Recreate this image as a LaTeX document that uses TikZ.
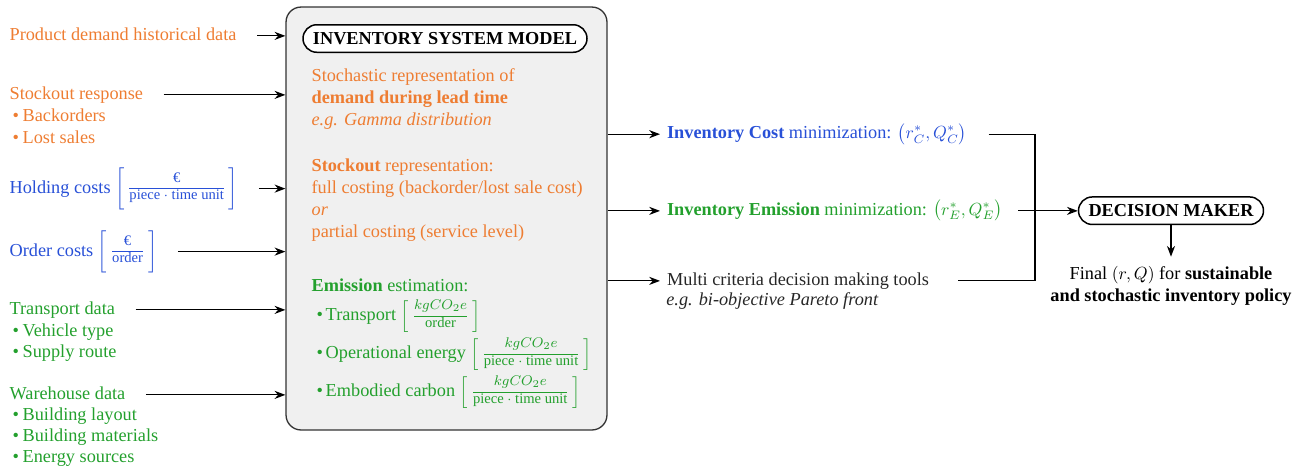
\documentclass[tikz,border=0pt]{standalone}
\usepackage{amsmath}
\usepackage{fontspec}
\setmainfont{Liberation Serif}
\usetikzlibrary{positioning,arrows.meta}

\definecolor{dorange}{RGB}{238,125,50}
\definecolor{cblue}{RGB}{40,80,215}
\definecolor{egreen}{RGB}{35,160,45}

\newcommand{\basefont}{\fontsize{10.4}{12.5}\selectfont}
\newcommand{\unitsize}{\fontsize{8.3}{9}\selectfont}
% unit in square brackets: #1 is the bracket size
\newcommand{\unitfrac}[3]{$#1[\,\frac{\text{\unitsize #2\rule[-3pt]{0pt}{1pt}}}{\text{\unitsize #3}}\,#1]$}
\newcommand{\perpiece}{piece $\cdot$ time unit}

\tikzset{lbl/.style={inner sep=0pt, anchor=base west, text height=0.69em, text depth=0.22em},
  item/.style={inner sep=0pt, anchor=base west},
  pill/.style={draw, line width=0.85pt, rounded corners=0.275cm, minimum height=0.55cm,
    inner xsep=0.2cm, fill=white, font=\basefont\bfseries},
  model/.style={draw=black!80, line width=0.75pt, fill=black!6, rounded corners=0.3cm},
  feed/.style={->, line width=0.7pt, shorten <=0.4cm}}

\begin{document}
\begin{tikzpicture}[x=0.02cm, y=-0.02cm, >=Stealth, font=\basefont, line width=0.7pt]
    \useasboundingbox (0,0) rectangle (1306,468);
    % the model in the middle
    \node [model, minimum width=6.42cm, minimum height=8.46cm] at (446.5,218.5) (model) {};
    \node [pill] at (445,38.5) (title) {INVENTORY SYSTEM MODEL};
    \foreach \t [count=\i] in {Stochastic representation of, \textbf{demand during lead time},
        \textit{e.g. Gamma distribution}}
        \node [lbl, dorange] at (311,59.7+22*\i) (stoch-\i) {\t};
    \foreach \t [count=\i] in {\textbf{Stockout} representation:, full costing (backorder/lost sale cost),
        \textit{or}, partial costing (service level)}
        \node [lbl, dorange] at (311,149.5+22*\i) (stockrep-\i) {\t};
    \node [lbl, egreen] at (311,291.7) (emis) {\textbf{Emission} estimation:};
    \foreach \t [count=\i] in {Transport \unitfrac{\Big}{$kgCO_2e$}{order},
        Operational energy \unitfrac{\Big}{$kgCO_2e$}{\perpiece},
        Embodied carbon \unitfrac{\Big}{$kgCO_2e$}{\perpiece}}
        \node [item, egreen] at (316,282.7+38*\i) (emis-\i) {\textbullet\hspace{0.15em}\t};

    % inputs on the left
    \node [lbl, dorange] at (9,40) (demand) {Product demand historical data};
    \node [lbl, dorange] at (9,99) (stockout) {Stockout response};
    \foreach \t [count=\i] in {Backorders, Lost sales}
        \node [lbl, dorange] at (12,99.5+22*\i) (stockout-\i) {\textbullet\hspace{0.2em}\t};
    \node [item, cblue] at (9,193) (holding) {Holding costs \unitfrac{\bigg}{€}{\perpiece}};
    \node [item, cblue] at (9,256) (order) {Order costs \unitfrac{\bigg}{€}{order}};
    \node [lbl, egreen] at (9,314) (transport) {Transport data};
    \foreach \t [count=\i] in {Vehicle type, Supply route}
        \node [lbl, egreen] at (12,315+21*\i) (transport-\i) {\textbullet\hspace{0.2em}\t};
    \node [lbl, egreen] at (9,399) (warehouse) {Warehouse data};
    \foreach \t [count=\i] in {Building layout, Building materials, Energy sources}
        \node [lbl, egreen] at (12,400+20.7*\i) (warehouse-\i) {\textbullet\hspace{0.2em}\t};
    \foreach \n in {demand, stockout, holding, order, transport, warehouse}
        \draw [feed] (\n.east) -- (\n.east -| model.west);

    % results on the right
    \node [lbl, cblue] at (666.5,138.3) (costmin)
        {\textbf{Inventory Cost} minimization: $\bigl(r^*_C, Q^*_C\bigr)$};
    \node [lbl, egreen] at (666.5,215) (emismin)
        {\textbf{Inventory Emission} minimization: $\bigl(r^*_E, Q^*_E\bigr)$};
    \node [lbl, black!85] at (666.5,285) (mcdm) {Multi criteria decision making tools};
    \node [lbl, black!85] at (665.7,305) (pareto) {\textit{e.g. bi-objective Pareto front}};
    \foreach \n in {costmin, emismin, mcdm}
        \draw [->, shorten >=0.13cm] (model.east |- \n.west) -- (\n.west);

    \node [pill] at (1171,210.7) (maker) {DECISION MAKER};
    \coordinate (bus) at (1035,211);
    \draw ([xshift=0.42cm]costmin.east) -| (bus |- mcdm.east) -- ([xshift=0.56cm]mcdm.east);
    \draw [->] ([xshift=0.3cm]emismin.east) -- (emismin.east -| maker.west);

    \node [below=0.81cm of maker, align=center, inner sep=0pt] (final)
        {Final $(r,Q)$ for \textbf{sustainable}\\\textbf{and stochastic inventory policy}};
    \draw [->, shorten >=0.18cm] (maker.south) -- (maker.south |- final.north);
\end{tikzpicture}
\end{document}
